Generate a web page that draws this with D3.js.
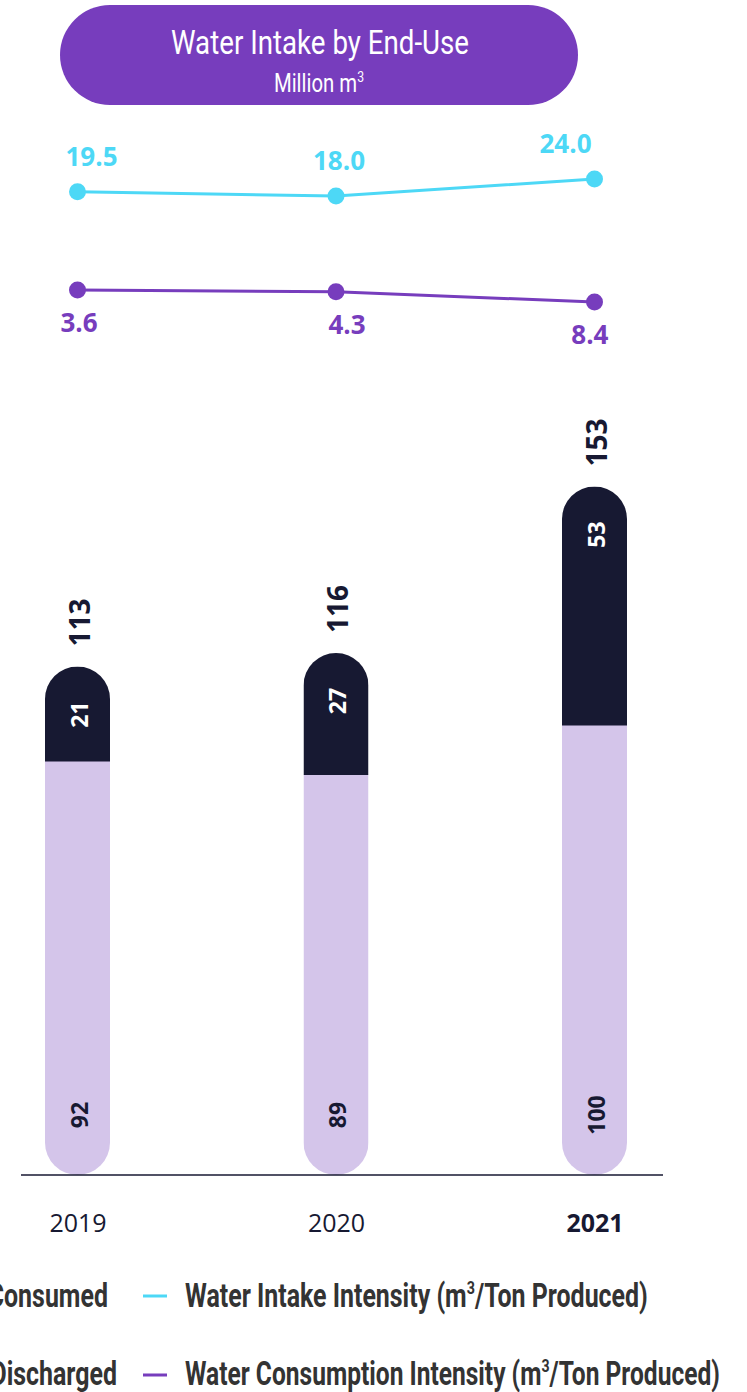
<!DOCTYPE html>
<html lang="en">
<head>
<meta charset="UTF-8">
<title>Water Intake by End-Use</title>
<script src="https://cdn.jsdelivr.net/npm/d3@7"></script>
<style>
  body { margin: 0; background: #fff; }
  .cond { font-family: "Roboto", "Liberation Sans", sans-serif; }
  .num { font-family: "Open Sans", "Noto Sans", sans-serif; }
</style>
</head>
<body>
<div id="box"></div>
<script>
const years = ["2019", "2020", "2021"];
const consumed = [92, 89, 100];
const discharged = [21, 27, 53];
const totals = [113, 116, 153];
const intakeIntensity = [19.5, 18.0, 24.0];
const consumptionIntensity = [3.6, 4.3, 8.4];

const width = 747, height = 1392;
const svg = d3.select("#box").append("svg")
  .attr("width", width).attr("height", height);

const purple = "#773dbd", cyan = "#4dd8f6", dark = "#171932", lav = "#d4c5ea";

// squeeze a text horizontally so it looks like the condensed face of the original
function squeeze(t, x0, k, anchor) {
  const w = t.node().getBBox().width;
  const s = k || 1;
  let tx = x0;
  if (anchor === "end") tx = x0 - w * s;
  if (anchor === "middle") tx = x0 - w * s / 2;
  t.attr("x", 0).attr("text-anchor", "start")
    .attr("transform", `translate(${tx},0) scale(${s},1)`);
  return w;
}

// title pill
svg.append("rect").attr("x", 60).attr("y", 5).attr("width", 518).attr("height", 100)
  .attr("rx", 50).attr("fill", purple);
const title = svg.append("text").attr("class", "cond").attr("y", 54)
  .attr("fill", "#fff").attr("font-size", 34).text("Water Intake by End-Use");
const tw = title.node().getBBox().width;
squeeze(title, 320, 298 / tw, "middle");
const sub = svg.append("text").attr("class", "cond").attr("y", 92)
  .attr("fill", "#fff").attr("font-size", 25);
sub.append("tspan").text("Million m");
sub.append("tspan").attr("font-size", 15).attr("dy", -10).text("3");
squeeze(sub, 319, 298 / tw, "middle");

// scales
const x = d3.scalePoint().domain(years).range([77.5, 594.5]);
const baseY = 1175;
const y = d3.scaleLinear().domain([0, 160]).range([baseY, baseY - 720]);
const yIntake = d3.scaleLinear().domain([18, 24]).range([196, 179]);
const yCons = d3.scaleLinear().domain([3.6, 8.4]).range([290, 302]);

// bars
const barW = 65;
const bars = svg.append("g");
years.forEach((yr, i) => {
  const cx = x(yr);
  const top = y(consumed[i] + discharged[i]);
  const mid = y(consumed[i]);
  const clipId = "clip" + i;
  svg.append("clipPath").attr("id", clipId).append("rect")
    .attr("x", cx - barW / 2).attr("y", top).attr("width", barW)
    .attr("height", baseY - top).attr("rx", barW / 2);
  const b = bars.append("g").attr("clip-path", `url(#${clipId})`);
  b.append("rect").attr("x", cx - barW / 2).attr("y", mid).attr("width", barW)
    .attr("height", baseY - mid).attr("fill", lav);
  b.append("rect").attr("x", cx - barW / 2).attr("y", top).attr("width", barW)
    .attr("height", mid - top + 0.5).attr("fill", dark);

  // value labels, rotated
  bars.append("text").attr("class", "num")
    .attr("transform", `translate(${cx + 1},${baseY - 60}) rotate(-90)`)
    .attr("text-anchor", "middle").attr("dominant-baseline", "central")
    .attr("font-size", 23).attr("font-weight", 700).attr("fill", dark)
    .text(consumed[i]);
  bars.append("text").attr("class", "num")
    .attr("transform", `translate(${cx + 1},${top + 48}) rotate(-90)`)
    .attr("text-anchor", "middle").attr("dominant-baseline", "central")
    .attr("font-size", 23).attr("font-weight", 700).attr("fill", "#fff")
    .text(discharged[i]);
  bars.append("text").attr("class", "num")
    .attr("transform", `translate(${cx + 1},${top - 20}) rotate(-90)`)
    .attr("text-anchor", "start").attr("dominant-baseline", "central")
    .attr("font-size", 28).attr("font-weight", 700).attr("fill", dark)
    .text(totals[i]);
});

// x axis
svg.append("line").attr("x1", 21).attr("x2", 663).attr("y1", baseY).attr("y2", baseY)
  .attr("stroke", dark).attr("stroke-width", 1.5);
const xAxis = d3.axisBottom(x).tickSize(0).tickPadding(0);
const ax = svg.append("g").attr("transform", `translate(0,${baseY + 57})`).call(xAxis);
ax.select(".domain").remove();
ax.selectAll(".tick text").attr("class", "num").attr("font-size", 25).attr("fill", dark)
  .attr("dy", 0)
  .attr("font-weight", d => d === "2021" ? 700 : 400);

// intensity lines
const anchors = ["start", "middle", "end"];
const intakeDx = [-12, 3, -3];
const consDx = [-17, 11, 14];

const lineIntake = d3.line().x((d, i) => x(years[i])).y(d => yIntake(d));
const lineCons = d3.line().x((d, i) => x(years[i])).y(d => yCons(d));

svg.append("path").attr("d", lineIntake(intakeIntensity)).attr("fill", "none")
  .attr("stroke", cyan).attr("stroke-width", 3);
svg.append("path").attr("d", lineCons(consumptionIntensity)).attr("fill", "none")
  .attr("stroke", purple).attr("stroke-width", 3);

intakeIntensity.forEach((v, i) => {
  svg.append("circle").attr("cx", x(years[i])).attr("cy", yIntake(v)).attr("r", 8.5).attr("fill", cyan);
  svg.append("text").attr("class", "num").attr("x", x(years[i]) + intakeDx[i]).attr("y", yIntake(v) - 26)
    .attr("text-anchor", anchors[i]).attr("font-size", 26).attr("font-weight", 700)
    .attr("fill", cyan).text(v.toFixed(1));
});
consumptionIntensity.forEach((v, i) => {
  svg.append("circle").attr("cx", x(years[i])).attr("cy", yCons(v)).attr("r", 8.5).attr("fill", purple);
  svg.append("text").attr("class", "num").attr("x", x(years[i]) + consDx[i]).attr("y", yCons(v) + 42)
    .attr("text-anchor", anchors[i]).attr("font-size", 26).attr("font-weight", 700)
    .attr("fill", purple).text(v.toFixed(1));
});

// legend
const legend = svg.append("g").attr("class", "cond").attr("font-weight", 700)
  .attr("fill", "#333");
legend.append("line").attr("x1", 143).attr("x2", 167).attr("y1", 1296).attr("y2", 1296)
  .attr("stroke", cyan).attr("stroke-width", 3);
legend.append("line").attr("x1", 143).attr("x2", 167).attr("y1", 1375).attr("y2", 1375)
  .attr("stroke", purple).attr("stroke-width", 3);

const l1 = legend.append("text").attr("y", 1307).attr("font-size", 33);
l1.append("tspan").text("Water Intake Intensity (m");
l1.append("tspan").attr("font-size", 19).attr("dy", -13).text("3");
l1.append("tspan").attr("dy", 13).text("/Ton Produced)");
const w1 = l1.node().getBBox().width;
const k = 463 / w1;
squeeze(l1, 185, k);
const l2 = legend.append("text").attr("y", 1385).attr("font-size", 33);
l2.append("tspan").text("Water Consumption Intensity (m");
l2.append("tspan").attr("font-size", 19).attr("dy", -13).text("3");
l2.append("tspan").attr("dy", 13).text("/Ton Produced)");
squeeze(l2, 185, 535 / l2.node().getBBox().width);

const c1 = legend.append("text").attr("y", 1307).attr("font-size", 33).text("Water Consumed");
squeeze(c1, 108, k, "end");
const c2 = legend.append("text").attr("y", 1385).attr("font-size", 33).text("Water Discharged");
squeeze(c2, 117, k, "end");
</script>
</body>
</html>
